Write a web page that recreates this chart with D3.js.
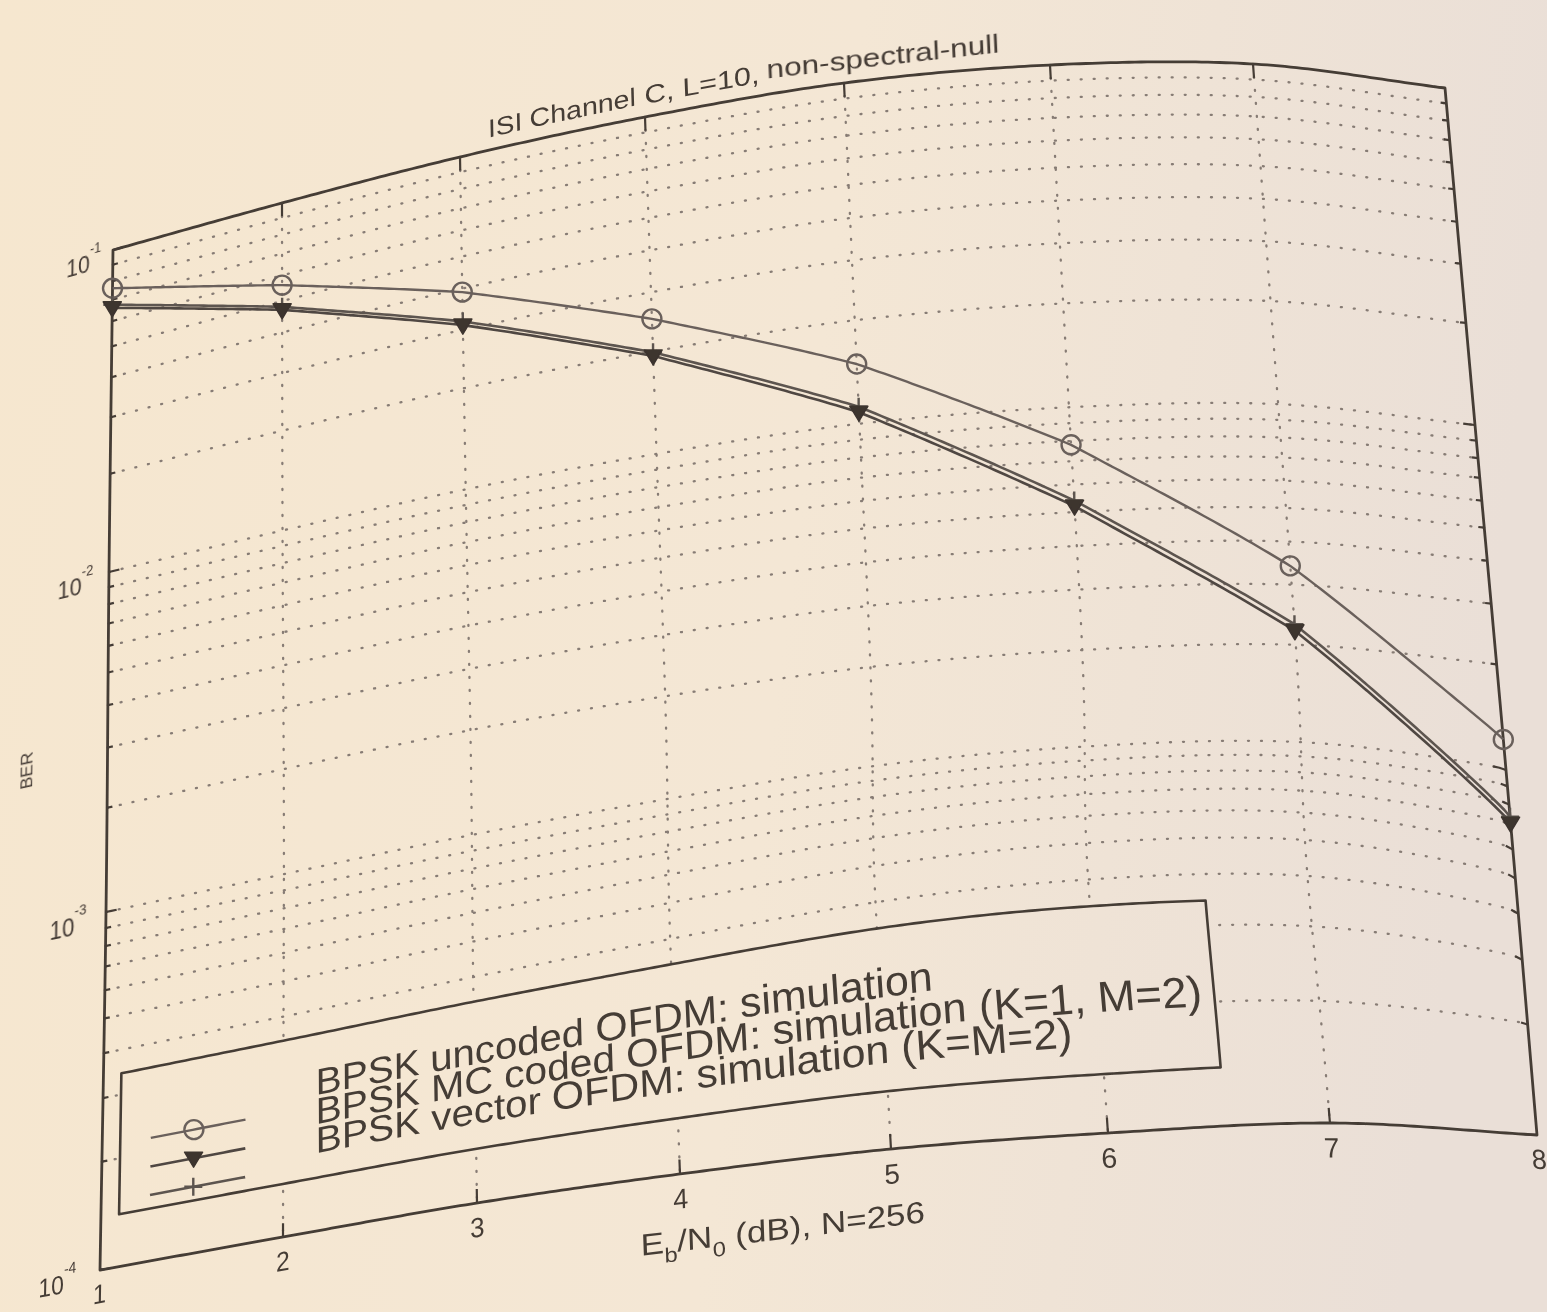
<!DOCTYPE html>
<html>
<head>
<meta charset="utf-8">
<script src="https://cdn.jsdelivr.net/npm/d3@7"></script>
<style>
  html, body { margin: 0; padding: 0; background: #f4e7d4; }
  svg { display: block; font-family: "Liberation Sans", Arial, Helvetica, sans-serif; }
</style>
</head>
<body>
<svg id="chart" width="1547" height="1312"></svg>
<script>
// ---- data -------------------------------------------------------------
const ebn0 = [1, 2, 3, 4, 5, 6, 7, 8];                 // Eb/N0 (dB)
const berUncoded = [0.076, 0.056, 0.039, 0.025, 0.0149, 0.0078, 0.0034, 0.00122];
const berMcCoded = [0.066, 0.047, 0.031, 0.0194, 0.0108, 0.0052, 0.0022, 0.00071];
const berVector  = [0.0675, 0.048, 0.0318, 0.0199, 0.0112, 0.0054, 0.0023, 0.00074];
const xTickValues = [1, 2, 3, 4, 5, 6, 7, 8];
const yDecades = [1e-1, 1e-2, 1e-3, 1e-4];
const yDecadeExponents = ["-1", "-2", "-3", "-4"];
const legendLabels = [
  "BPSK uncoded OFDM: simulation",
  "BPSK MC coded OFDM: simulation (K=1, M=2)",
  "BPSK vector OFDM: simulation (K=M=2)"
];
const titleText = "ISI Channel C, L=10, non-spectral-null";
const yLabelText = "BER";

// ---- flat plotting frame ----------------------------------------------
const FW = 1400, FH = 1030;
const x = d3.scaleLinear().domain([1, 8]).range([0, FW]);
const y = d3.scaleLog().domain([1e-1, 1e-4]).range([0, FH]);

// ---- page geometry: the printed axes box bends with the paper ---------
const topEdge    = [[113,250],[282,203],[460,157],[645,117],[844,83],[1050,65],[1253,64],[1445,88]];
const bottomEdge = [[100,1270],[283,1237],[477,1203],[680,1174],[891,1149],[1108,1133],[1330,1123],[1537,1135]];
const leftEdge   = [[113,250],[109,572],[106,912],[100,1270]];
const rightEdge  = [[1445,88],[1475,425],[1506,770],[1537,1135]];
// local sag of the sheet in the lower right part of the axes
const sag = { u: 0.85, v: 0.8, su: 0.28, sv: 0.1, dx: -14, dy: -46 };

// Catmull-Rom through evenly spaced knots, reflected end knots, linear beyond the ends
function curveAt(pts, t) {
  const n = pts.length - 1, s = t * n;
  if (s <= 0) {
    const a = pts[0], b = pts[1];
    return [a[0] + (b[0] - a[0]) * s, a[1] + (b[1] - a[1]) * s];
  }
  if (s >= n) {
    const a = pts[n - 1], b = pts[n], k = s - n;
    return [b[0] + (b[0] - a[0]) * k, b[1] + (b[1] - a[1]) * k];
  }
  const knot = j => {
    if (j < 0) return [2 * pts[0][0] - pts[1][0], 2 * pts[0][1] - pts[1][1]];
    if (j > n) return [2 * pts[n][0] - pts[n - 1][0], 2 * pts[n][1] - pts[n - 1][1]];
    return pts[j];
  };
  const i = Math.min(Math.floor(s), n - 1), f = s - i;
  const p0 = knot(i - 1), p1 = knot(i), p2 = knot(i + 1), p3 = knot(i + 2);
  const cr = (a, b, c, d) => 0.5 * (2 * b + (-a + c) * f + (2 * a - 5 * b + 4 * c - d) * f * f + (-a + 3 * b - 3 * c + d) * f * f * f);
  return [cr(p0[0], p1[0], p2[0], p3[0]), cr(p0[1], p1[1], p2[1], p3[1])];
}

function sagAt(u, v) {
  if (u <= 0 || u >= 1 || v <= 0 || v >= 1) return 0;
  const fall = Math.sqrt(Math.sin(Math.PI * u) * Math.sin(Math.PI * v));
  return fall * Math.exp(-((u - sag.u) ** 2) / (2 * sag.su ** 2) - ((v - sag.v) ** 2) / (2 * sag.sv ** 2));
}

// Coons patch from the four bent edges, plus the local sag
function warp(px, py) {
  const u = px / FW, v = py / FH;
  const T = curveAt(topEdge, u), B = curveAt(bottomEdge, u);
  const L = curveAt(leftEdge, v), R = curveAt(rightEdge, v);
  const P00 = topEdge[0], P10 = topEdge[topEdge.length - 1];
  const P01 = bottomEdge[0], P11 = bottomEdge[bottomEdge.length - 1];
  const s = sagAt(u, v);
  return [0, 1].map(k =>
    (1 - v) * T[k] + v * B[k] + (1 - u) * L[k] + u * R[k]
    - ((1 - u) * (1 - v) * P00[k] + u * (1 - v) * P10[k] + (1 - u) * v * P01[k] + u * v * P11[k])
    + s * (k === 0 ? sag.dx : sag.dy));
}

function densify(pts, step = 6) {
  const out = [pts[0]];
  for (let i = 1; i < pts.length; i++) {
    const [x0, y0] = pts[i - 1], [x1, y1] = pts[i];
    const n = Math.max(1, Math.ceil(Math.hypot(x1 - x0, y1 - y0) / step));
    for (let k = 1; k <= n; k++) out.push([x0 + (x1 - x0) * k / n, y0 + (y1 - y0) * k / n]);
  }
  return out;
}
const line = d3.line();
const wpath = pts => line(densify(pts).map(p => warp(p[0], p[1])));

function jac(px, py) {
  const h = 0.5;
  const a = warp(px - h, py), b = warp(px + h, py), c = warp(px, py - h), d = warp(px, py + h);
  return [(b[0] - a[0]) / (2 * h), (b[1] - a[1]) / (2 * h), (d[0] - c[0]) / (2 * h), (d[1] - c[1]) / (2 * h)];
}
function placeAt(sel, px, py, sx = 1, sy = 1, extra = "") {
  const [a, b, c, d] = jac(px, py), [X, Y] = warp(px, py);
  sel.attr("transform", `matrix(${a * sx},${b * sx},${c * sy},${d * sy},${X},${Y})${extra}`);
}

// ---- svg ---------------------------------------------------------------
const svg = d3.select("#chart");
const defs = svg.append("defs");
const paper = defs.append("linearGradient").attr("id", "paper")
  .attr("gradientUnits", "userSpaceOnUse").attr("x1", 0).attr("y1", 0).attr("x2", 1547).attr("y2", 200);
paper.selectAll("stop").data([[0, "#f6e7cf"], [0.55, "#f4e7d5"], [1, "#eadfd7"]]).join("stop")
  .attr("offset", d => d[0]).attr("stop-color", d => d[1]);
defs.append("filter").attr("id", "soft").attr("x", "-5%").attr("y", "-5%").attr("width", "110%").attr("height", "110%")
  .append("feGaussianBlur").attr("stdDeviation", 0.6);

svg.append("rect").attr("width", 1547).attr("height", 1312).attr("fill", "url(#paper)");
const g = svg.append("g").attr("filter", "url(#soft)");

const measurer = svg.append("text").attr("visibility", "hidden");
function measure(str, size) {
  measurer.attr("font-size", size).text(str);
  return measurer.node().getComputedTextLength();
}
// word-by-word text following the bent page
function warpedWords(parent, str, fx, fy, size, sx, anchor) {
  const total = measure(str, size) * sx;
  const start = anchor === "middle" ? fx - total / 2 : fx;
  let prefix = "";
  str.split(" ").forEach((w, i) => {
    const full = prefix + (i ? " " : "") + w;
    const end = measure(full, size) * sx, ww = measure(w, size) * sx;
    const t = parent.append("text").attr("font-size", size).attr("text-anchor", "middle").text(w);
    placeAt(t, start + end - ww / 2, fy, sx, 1);
    prefix = full;
  });
}

const INK = "#453c36";

// ---- grid --------------------------------------------------------------
const grid = g.append("g").attr("fill", "none").attr("stroke", "#877c74").attr("stroke-width", 2.3)
  .attr("stroke-dasharray", "1 12").attr("stroke-linecap", "round");
grid.selectAll("path.gx").data(xTickValues.slice(1, -1)).join("path").attr("class", "gx")
  .attr("d", d => wpath([[x(d), 0], [x(d), FH]]));
const yMinor = y.ticks().filter(v => v > 1.0001e-4 && v < 0.9999e-1);
grid.selectAll("path.gy").data(yMinor).join("path").attr("class", "gy")
  .attr("d", d => wpath([[0, y(d)], [FW, y(d)]]));

// ---- ticks -------------------------------------------------------------
const ticks = g.append("g").attr("fill", "none").attr("stroke", INK).attr("stroke-width", 2.2);
xTickValues.slice(1, -1).forEach(d => {
  ticks.append("path").attr("d", wpath([[x(d), FH], [x(d), FH - 13]]));
  ticks.append("path").attr("d", wpath([[x(d), 0], [x(d), 14]]));
});
y.ticks().forEach(v => {
  const major = yDecades.some(dv => Math.abs(Math.log10(v) - Math.log10(dv)) < 1e-6);
  const len = major ? 12 : 6;
  ticks.append("path").attr("d", wpath([[0, y(v)], [len, y(v)]]));
  ticks.append("path").attr("d", wpath([[FW, y(v)], [FW - len, y(v)]]));
});

// ---- frame -------------------------------------------------------------
g.append("path").attr("d", wpath([[0, 0], [FW, 0], [FW, FH], [0, FH], [0, 0]]) + "Z")
  .attr("fill", "none").attr("stroke", INK).attr("stroke-width", 2.8).attr("stroke-linejoin", "round");

// ---- series ------------------------------------------------------------
const series = [
  { label: legendLabels[0], values: berUncoded, marker: "circle", color: "#6a615b", width: 2.4 },
  { label: legendLabels[2], values: berVector,  marker: "plus",   color: "#5d554f", width: 2.6 },
  { label: legendLabels[1], values: berMcCoded, marker: "tri",    color: "#4f4742", width: 2.6 }
];
function drawMarker(parent, kind, X, Y, color) {
  if (kind === "circle") {
    parent.append("circle").attr("cx", X).attr("cy", Y).attr("r", 9.5)
      .attr("fill", "none").attr("stroke", color).attr("stroke-width", 2.4);
  } else if (kind === "tri") {
    parent.append("path").attr("d", `M${X - 9},${Y - 6}L${X + 9},${Y - 6}L${X},${Y + 9}Z`)
      .attr("fill", "#3c342f").attr("stroke", "#3c342f").attr("stroke-width", 1.5).attr("stroke-linejoin", "round");
  } else {
    parent.append("path").attr("d", `M${X - 9},${Y}L${X + 9},${Y}M${X},${Y - 9}L${X},${Y + 9}`)
      .attr("stroke", color).attr("stroke-width", 2.4);
  }
}
const dataG = g.append("g");
series.forEach(s => {
  dataG.append("path").attr("d", wpath(ebn0.map((e, i) => [x(e), y(s.values[i])])))
    .attr("fill", "none").attr("stroke", s.color).attr("stroke-width", s.width).attr("stroke-linejoin", "round");
});
series.forEach(s => {
  ebn0.forEach((e, i) => {
    const [X, Y] = warp(x(e), y(s.values[i]));
    drawMarker(dataG, s.marker, X, Y, s.color);
  });
});

// ---- legend ------------------------------------------------------------
const lg = g.append("g");
const lgBox = { x0: 20, y0: 846, x1: 1105, y1: 980 };
lg.append("path").attr("d", wpath([[lgBox.x0, lgBox.y0], [lgBox.x1, lgBox.y0], [lgBox.x1, lgBox.y1], [lgBox.x0, lgBox.y1], [lgBox.x0, lgBox.y0]]) + "Z")
  .attr("fill", "url(#paper)").attr("stroke", INK).attr("stroke-width", 2.6).attr("stroke-linejoin", "round");
const legendOrder = [series[0], series[2], series[1]];
const sampleRowY = [913, 940, 967];
const textBaseY = [903, 930, 957];
legendOrder.forEach((s, i) => {
  lg.append("path").attr("d", wpath([[54, sampleRowY[i]], [159, sampleRowY[i]]]))
    .attr("fill", "none").attr("stroke", s.color).attr("stroke-width", s.width);
  const [X, Y] = warp(102, sampleRowY[i]);
  drawMarker(lg, s.marker, X, Y, s.color);
  const tg = lg.append("g").attr("fill", INK);
  warpedWords(tg, s.label, 235, textBaseY[i], 34, 1.2, "start");
});

// ---- labels ------------------------------------------------------------
const labels = g.append("g").attr("fill", INK);
warpedWords(labels, titleText, x(4.46), -13, 26, 1.18, "middle");

xTickValues.forEach(d => {
  const t = labels.append("text").attr("font-size", 26).attr("text-anchor", "middle").text(d);
  placeAt(t, x(d), FH + 32, 1, 1);
});

yDecades.forEach((d, i) => {
  const t = labels.append("text").attr("font-size", 25).attr("text-anchor", "end");
  t.append("tspan").text("10");
  t.append("tspan").attr("font-size", 15).attr("dy", -18).text(yDecadeExponents[i]);
  placeAt(t, -14 - 4 * i, y(d) + 16, 1, 1);
});

const yl = labels.append("text").attr("font-size", 18).attr("text-anchor", "middle").text(yLabelText);
placeAt(yl, -85, 528, 1, 1, " rotate(-90)");

const xl = labels.append("text").attr("font-size", 28).attr("text-anchor", "middle");
xl.append("tspan").text("E");
xl.append("tspan").attr("font-size", 19).attr("dy", 9).text("b");
xl.append("tspan").attr("dy", -9).text("/N");
xl.append("tspan").attr("font-size", 19).attr("dy", 9).text("0");
xl.append("tspan").attr("dy", -9).text(" (dB), N=256");
placeAt(xl, x(4.48), FH + 72, 1.18, 1);
</script>
</body>
</html>
